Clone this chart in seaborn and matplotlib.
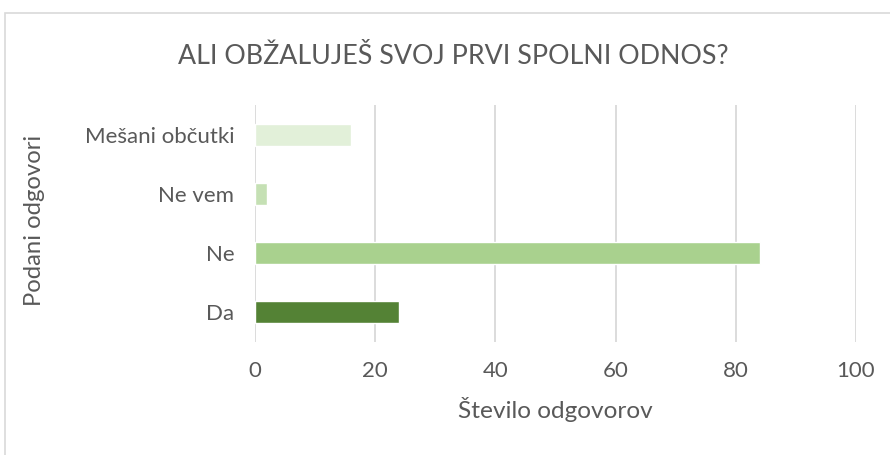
import matplotlib
matplotlib.use("Agg")
import matplotlib.pyplot as plt
import seaborn as sns
import pandas as pd
from matplotlib.patches import Rectangle

categories = ["Mešani občutki", "Ne vem", "Ne", "Da"]
values = [16, 2, 84, 24]
colors = ["#E2F0D9", "#C5E0B4", "#A9D18E", "#548235"]
xticks = [0, 20, 40, 60, 80, 100]

sns.set_style("white")
plt.rcParams["font.family"] = ["Lato", "DejaVu Sans"]

df = pd.DataFrame({"cat": categories, "val": values})

fig = plt.figure(figsize=(8.9, 4.55), dpi=100)
ax = fig.add_axes([255/890, 1-342/455, (856-255)/890, (342-105)/455])

sns.barplot(data=df, y="cat", x="val", hue="cat", palette=colors, order=categories,
            hue_order=categories, width=0.37, legend=False, ax=ax, saturation=1)

ax.set_xlim(0, 100)
ax.set_xticks(xticks)
ax.set_xticklabels([str(t) for t in xticks])
ax.xaxis.grid(True, color="#D9D9D9", linewidth=1.3)
ax.set_axisbelow(True)
for s in ax.spines.values():
    s.set_visible(False)
ax.tick_params(axis="both", length=0, labelsize=16, labelcolor="#595959")
ax.tick_params(axis="y", pad=15)
ax.tick_params(axis="x", pad=14)
ax.set_xlabel("")
ax.set_ylabel("")
fig.text(555/890, 1-410/455, "Število odgovorov", fontsize=17.6,
         color="#595959", ha="center", va="center")
fig.text(35/890, 1-220/455, "Podani odgovori", rotation=90, fontsize=17.2,
         color="#595959", ha="center", va="center")
fig.text(453/890, 1-56/455, "ALI OBŽALUJEŠ SVOJ PRVI SPOLNI ODNOS?", fontsize=19.3,
         color="#595959", ha="center", va="center")

fig.patches.append(Rectangle((5/890, -0.1), 1.1, 1 - 13/455 + 0.1, transform=fig.transFigure,
                             fill=False, edgecolor="#D9D9D9", linewidth=1.2, figure=fig))

fig.savefig("out.png", dpi=100)
